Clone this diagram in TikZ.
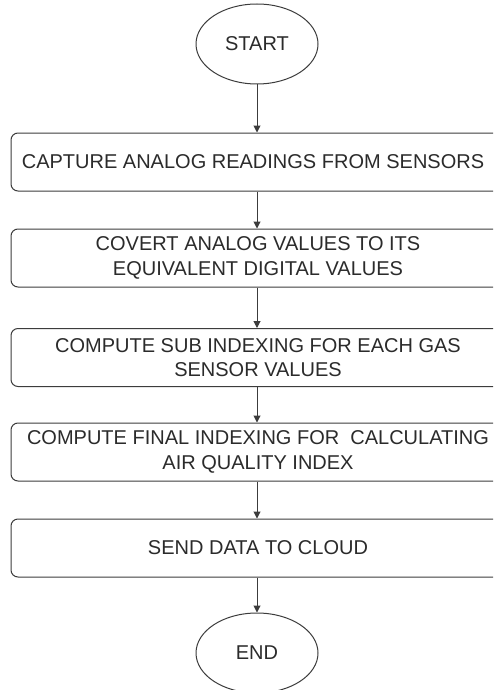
\documentclass[tikz,border=0pt]{standalone}
\usepackage{fontspec}
\setmainfont{Liberation Sans}
\usetikzlibrary{shapes.geometric,arrows.meta}
\definecolor{ink}{HTML}{2B2B2B}
\definecolor{edge}{HTML}{3C3C3C}
\tikzset{
  terminal/.style={ellipse, draw=edge, line width=1pt, minimum width=122pt, minimum height=80pt, inner sep=0pt, text=ink, font=\fontsize{20}{24}\selectfont},
  stepbox/.style={rectangle, rounded corners=7pt, draw=edge, line width=1pt, minimum width=494pt, minimum height=58pt, inner sep=0pt, text=ink, align=center, font=\fontsize{20}{24.5}\selectfont},
  flow/.style={draw=edge, line width=1pt, -{Triangle[width=7pt,length=7pt]}}
}
\begin{document}
\begin{tikzpicture}[x=1pt,y=-1pt]
  \useasboundingbox (0,0) rectangle (493,690);
  \clip (0,0) rectangle (493,690);
  \fill[white] (0,0) rectangle (493,690);
  \node[terminal] (start) at (257,44) {START};
  % the first label runs wide, so it sits a little left of centre
  \node[stepbox] (s1) at (258,162) {\hspace*{-10pt}CAPTURE ANALOG READINGS FROM SENSORS};
  \node[stepbox] (s2) at (258,258) {COVERT ANALOG VALUES TO ITS\\EQUIVALENT DIGITAL VALUES};
  \node[stepbox] (s3) at (258,357.5) {COMPUTE SUB INDEXING FOR EACH GAS\\SENSOR VALUES};
  \node[stepbox] (s4) at (258,452) {COMPUTE FINAL INDEXING FOR \ CALCULATING\\AIR QUALITY INDEX};
  \node[stepbox] (s5) at (258,548) {SEND DATA TO CLOUD};
  \node[terminal] (end) at (257,653) {END};
  \draw[flow] (start.south) -- (start.south |- s1.north);
  \draw[flow] (s1.south -| start.south) -- (s2.north -| start.south);
  \draw[flow] (s2.south -| start.south) -- (s3.north -| start.south);
  \draw[flow] (s3.south -| start.south) -- (s4.north -| start.south);
  \draw[flow] (s4.south -| start.south) -- (s5.north -| start.south);
  \draw[flow] (s5.south -| start.south) -- (end.north);
\end{tikzpicture}
\end{document}
